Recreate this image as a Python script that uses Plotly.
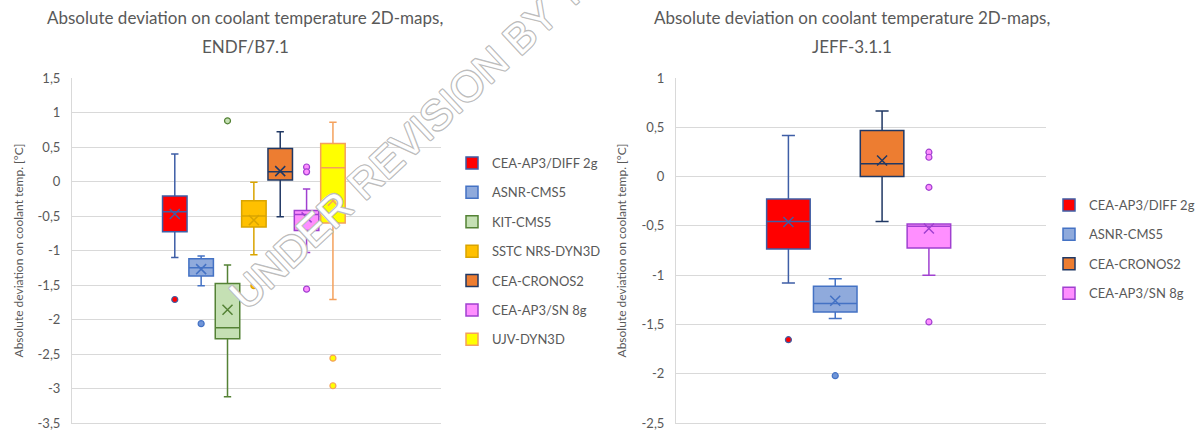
import plotly.graph_objects as go

# ---------------- data: left chart (ENDF/B7.1) ----------------
names_left = ["CEA-AP3/DIFF 2g", "ASNR-CMS5", "KIT-CMS5", "SSTC NRS-DYN3D",
              "CEA-CRONOS2", "CEA-AP3/SN 8g", "UJV-DYN3D"]
lower_left = [-1.10, -1.51, -3.12, -1.06, -0.51, -1.03, -1.71]
q1_left = [-0.73, -1.37, -2.28, -0.66, 0.02, -0.71, -0.60]
median_left = [-0.44, -1.25, -2.12, -0.50, 0.14, -0.48, 0.20]
q3_left = [-0.21, -1.12, -1.48, -0.28, 0.48, -0.42, 0.55]
upper_left = [0.40, -1.08, -1.21, -0.01, 0.72, -0.11, 0.86]
mean_left = [-0.47, -1.27, -1.86, -0.56, 0.15, -0.52, -0.28]
outliers_left = [[-1.71], [-2.06], [0.88], [-1.51], [], [0.21, 0.14, -1.56], [-2.56, -2.96]]

# ---------------- data: right chart (JEFF-3.1.1) ----------------
names_right = ["CEA-AP3/DIFF 2g", "ASNR-CMS5", "CEA-CRONOS2", "CEA-AP3/SN 8g"]
lower_right = [-1.08, -1.44, -0.455, -1.00]
q1_right = [-0.735, -1.375, 0.0, -0.725]
median_right = [-0.455, -1.287, 0.13, -0.505]
q3_right = [-0.227, -1.113, 0.468, -0.481]
upper_right = [0.417, -1.036, 0.664, -0.481]
mean_right = [-0.46, -1.26, 0.163, -0.526]
outliers_right = [[-1.655], [-2.02], [], [0.247, 0.196, -0.109, -1.475]]

# tick labels (comma decimal)
ticks_left = [-3.5, -3, -2.5, -2, -1.5, -1, -0.5, 0, 0.5, 1, 1.5]
ticktext_left = ["-3,5", "-3", "-2,5", "-2", "-1,5", "-1", "-0,5", "0", "0,5", "1", "1,5"]
ticks_right = [-2.5, -2, -1.5, -1, -0.5, 0, 0.5, 1]
ticktext_right = ["-2,5", "-2", "-1,5", "-1", "-0,5", "0", "0,5", "1"]

# ---------------- styles ----------------
styles = {
    "CEA-AP3/DIFF 2g": dict(fill="#FF0000", line="#3E5EA6", pt="#FF0000"),
    "ASNR-CMS5": dict(fill="#8FAADC", line="#4472C4", pt="#6F95D8"),
    "KIT-CMS5": dict(fill="#C5E0B4", line="#548235", pt="#C5E0B4"),
    "SSTC NRS-DYN3D": dict(fill="#FFC000", line="#D9A400", pt="#FFC000"),
    "CEA-CRONOS2": dict(fill="#ED7D31", line="#203864", pt="#ED7D31"),
    "CEA-AP3/SN 8g": dict(fill="#FF8FFF", line="#A040D0", pt="#FF8FFF"),
    "UJV-DYN3D": dict(fill="#FFFF00", line="#F4A15D", pt="#FFFF00"),
}

FONT = "Lato, 'Open Sans', sans-serif"
GRAY = "#595959"
GRID = "#d9d9d9"

fig = go.Figure()


def add_chart(names, lower, q1, med, q3, upper, mean, outl, xa, ya, legend):
    for i, n in enumerate(names):
        s = styles[n]
        fig.add_trace(go.Box(
            x=[n], q1=[q1[i]], median=[med[i]], q3=[q3[i]],
            lowerfence=[lower[i]], upperfence=[upper[i]],
            name=n, fillcolor=s["fill"], line=dict(color=s["line"], width=1.5),
            whiskerwidth=0.3, boxpoints=False, xaxis=xa, yaxis=ya,
            legend=legend, legendgroup=legend + n, hoverinfo="skip",
        ))
        fig.add_trace(go.Scatter(
            x=[n], y=[mean[i]], mode="markers", showlegend=False,
            marker=dict(symbol="x-thin-open", size=10, color=s["line"],
                        line=dict(color=s["line"], width=1.5)),
            xaxis=xa, yaxis=ya, hoverinfo="skip",
        ))
        if outl[i]:
            fig.add_trace(go.Scatter(
                x=[n] * len(outl[i]), y=outl[i], mode="markers", showlegend=False,
                marker=dict(symbol="circle", size=6, color=s["pt"],
                            line=dict(color=s["line"], width=1.2)),
                xaxis=xa, yaxis=ya, hoverinfo="skip",
            ))


add_chart(names_left, lower_left, q1_left, median_left, q3_left, upper_left,
          mean_left, outliers_left, "x", "y", "legend")
add_chart(names_right, lower_right, q1_right, median_right, q3_right, upper_right,
          mean_right, outliers_right, "x2", "y2", "legend2")

W, H = 1197, 432
ytitle = "Absolute deviation on coolant temp. [°C]"

xcommon = dict(type="category", showticklabels=False, showgrid=False,
               zeroline=False, showline=True, linecolor=GRID, linewidth=1, ticks="")
ycommon = dict(showgrid=True, gridcolor=GRID, gridwidth=1, zeroline=False,
               showline=True, linecolor=GRID, linewidth=1, ticks="",
               ticklabelstandoff=8,
               tickfont=dict(family=FONT, size=13, color=GRAY))

fig.update_layout(
    width=W, height=H,
    margin=dict(l=0, r=0, t=0, b=0, autoexpand=False),
    paper_bgcolor="white", plot_bgcolor="white",
    boxgap=0.07, boxgroupgap=0, boxmode="overlay",
    font=dict(family=FONT, color=GRAY),
    xaxis=dict(domain=[72 / W, 441 / W], anchor="y",
               categoryorder="array", categoryarray=names_left,
               range=[-3.9, 10.1], **xcommon),
    yaxis=dict(domain=[1 - 423 / H, 1 - 78 / H], anchor="x",
               range=[-3.5, 1.5], tickvals=ticks_left, ticktext=ticktext_left,
               title=dict(text=ytitle, standoff=11,
                          font=dict(family=FONT, size=12, color=GRAY)),
               **ycommon),
    xaxis2=dict(domain=[676 / W, 1046 / W], anchor="y2",
                categoryorder="array", categoryarray=names_right,
                range=[-2.4, 5.5], **xcommon),
    yaxis2=dict(domain=[1 - 423 / H, 1 - 78 / H], anchor="x2",
                range=[-2.5, 1], tickvals=ticks_right, ticktext=ticktext_right,
                title=dict(text=ytitle, standoff=12,
                           font=dict(family=FONT, size=12, color=GRAY)),
                **ycommon),
    legend=dict(x=452 / W, xanchor="left", y=1 - 148 / H, yanchor="top",
                traceorder="grouped", tracegroupgap=9.5, bgcolor="rgba(0,0,0,0)",
                font=dict(family=FONT, size=13, color=GRAY), itemclick=False),
    legend2=dict(x=1049 / W, xanchor="left", y=1 - 190 / H, yanchor="top",
                 traceorder="grouped", tracegroupgap=9.5, bgcolor="rgba(0,0,0,0)",
                 font=dict(family=FONT, size=13, color=GRAY), itemclick=False),
    showlegend=True,
)

title_font = dict(family=FONT, size=17, color=GRAY)
for xc, l1, l2 in [(245, "Absolute deviation on coolant temperature 2D-maps,", "ENDF/B7.1"),
                   (852, "Absolute deviation on coolant temperature 2D-maps,", "JEFF-3.1.1")]:
    fig.add_annotation(x=xc / W, y=1 - 17 / H, xref="paper", yref="paper",
                       text=l1, showarrow=False, xanchor="center", yanchor="middle",
                       font=title_font)
    fig.add_annotation(x=xc / W, y=1 - 46 / H, xref="paper", yref="paper",
                       text=l2, showarrow=False, xanchor="center", yanchor="middle",
                       font=title_font)

# watermark (outlined text)
oc = "#bdbdbd"
shadow = ", ".join(f"{dx}px {dy}px 0 {oc}" for dx, dy in
                   [(1, 1), (-1, -1), (1, -1), (-1, 1), (0, 1), (1, 0), (0, -1), (-1, 0)])
fig.add_annotation(x=428 / W, y=1 - 122 / H, xref="paper", yref="paper",
                   text="UNDER REVISION BY THE", showarrow=False, textangle=-43,
                   xanchor="center", yanchor="middle",
                   font=dict(family="Liberation Sans, Arial, sans-serif", size=42,
                             color="white", shadow=shadow))

fig.write_html("out.html", config={"displayModeBar": False},
               post_script="document.body.style.margin='0';document.body.style.padding='0';"
                           "document.body.style.overflow='hidden';")
